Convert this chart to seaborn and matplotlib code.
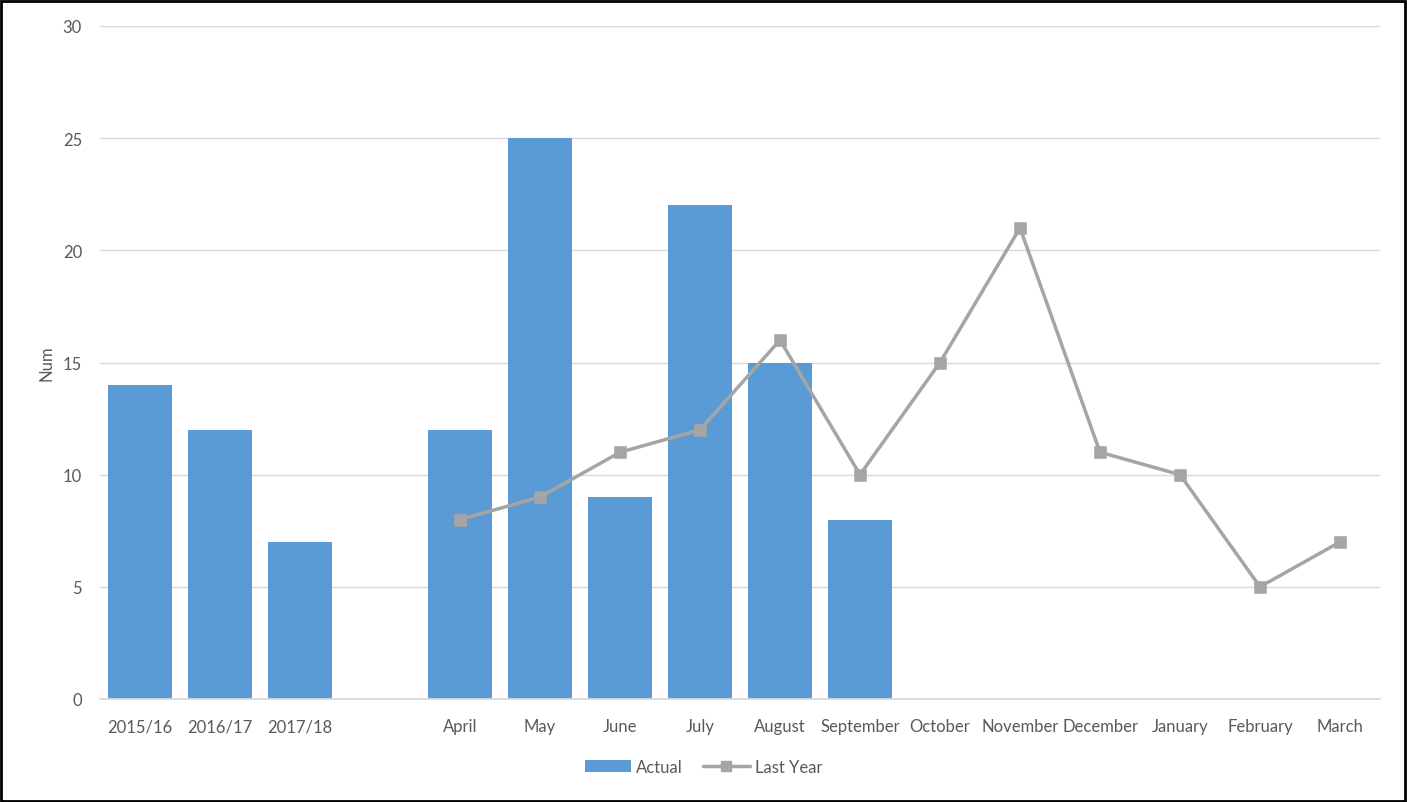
import numpy as np
import pandas as pd
import matplotlib
matplotlib.use("Agg")
import matplotlib.pyplot as plt
import seaborn as sns
from matplotlib.patches import Rectangle, Patch
from matplotlib.lines import Line2D

categories = ["2015/16", "2016/17", "2017/18", " ", "April", "May", "June", "July",
              "August", "September", "October", "November", "December", "January",
              "February", "March"]
actual = [14, 12, 7, np.nan, 12, 25, 9, 22, 15, 8, np.nan, np.nan, np.nan, np.nan, np.nan, np.nan]
last_year = [np.nan, np.nan, np.nan, np.nan, 8, 9, 11, 12, 16, 10, 15, 21, 11, 10, 5, 7]
y_ticks = [0, 5, 10, 15, 20, 25, 30]

df = pd.DataFrame({"cat": categories, "Actual": actual, "Last Year": last_year})

sns.set_theme(style="white")
plt.rcParams['font.family'] = ['Lato', 'DejaVu Sans']

BAR = "#5B9BD5"
LINE = "#A5A5A5"
TXT = "#595959"

fig = plt.figure(figsize=(14.07, 8.03), dpi=100)
ax = fig.add_axes([100/1407, 103/803, 1280/1407, 673/803])

sns.barplot(data=df, x="cat", y="Actual", order=categories, color=BAR, width=0.8,
            saturation=1, ax=ax, errorbar=None, linewidth=0)
dl = df.dropna(subset=["Last Year"])
sns.pointplot(data=dl, x="cat", y="Last Year", order=categories, color=LINE,
              markers="s", linestyles="-", errorbar=None, ax=ax,
              markersize=7, linewidth=2.5)

ax.set_xlim(-0.5, len(categories) - 0.5)
ax.set_ylim(0, 30)
ax.set_yticks(y_ticks)
ax.yaxis.grid(True, color="#D9D9D9", linewidth=1)
ax.set_axisbelow(True)
for s in ["top", "right", "left"]:
    ax.spines[s].set_visible(False)
ax.spines["bottom"].set_color("#D9D9D9")
ax.tick_params(axis="both", length=0, labelsize=12, labelcolor=TXT)
ax.tick_params(axis="y", pad=13)
ax.tick_params(axis="x", pad=14)
ax.set_xlabel("")
ax.set_ylabel("Num", fontsize=12, color=TXT, labelpad=6)

handles = [Patch(facecolor=BAR, edgecolor="none"),
           Line2D([0], [0], color=LINE, lw=2.5, marker="s", markersize=7)]
fig.legend(handles, ["Actual", "Last Year"], loc="center", bbox_to_anchor=(0.5, 35/803),
           ncol=2, frameon=False, fontsize=12, labelcolor=TXT, handlelength=2.8,
           handleheight=0.7, columnspacing=1.2, handletextpad=0.3)

fig.patches.append(Rectangle((1/1407, 1/803), 1 - 3/1407, 1 - 3/803, transform=fig.transFigure,
                             fill=False, edgecolor="black", linewidth=2))

fig.savefig("out.png", dpi=100)
